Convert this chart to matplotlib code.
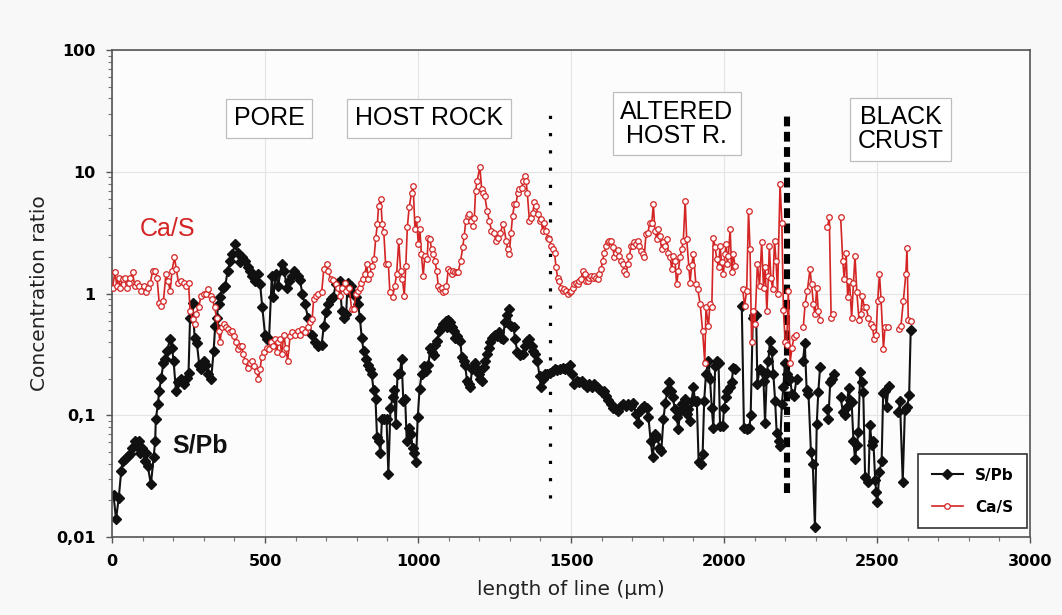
import numpy as np
import matplotlib
matplotlib.use('Agg')
import matplotlib.pyplot as plt
from matplotlib.ticker import FixedLocator, FixedFormatter, MultipleLocator, LogLocator, NullFormatter

nan = np.nan

# S/Pb profile (length in um, ratio); nan = no data
spb_x = [5, 13, 22, 30, 35, 43, 52, 60, 65, 74, 82, 87, 92, 98, 107, 111, 117, 127, 136, 141,
         143, 150, 154, 161, 168, 174, 179, 190, 196, 201, 209, 217, 226, 234, 245, 250, 255, 263, 270, 277,
         285, 291, 299, 307, 315, 324, 332, 337, 342, 348, 353, 361, 370, 378, 386, 393, 402, 411, 418, 426,
         435, 443, 451, 459, 467, 476, 484, 491, 500, 508, 513, 522, 527, 535, 543, 554, 563, 571, 578, 587,
         596, 607, 614, 622, 630, 641, 652, 663, 674, 685, 692, 699, 707, 717, 723, 731, 737, 744, 751, 758,
         765, 770, 776, 782, 790, 797, 804, 810, 816, 822, 829, 836, 842, 848, 855, 861, 866, 872, 877, 882,
         890, 897, 903, 910, 917, 922, 927, 933, 941, 946, 952, 958, 963, 970, 976, 982, 988, 993, 999, 1005,
         1012, 1019, 1026, 1034, 1040, 1045, 1051, 1056, 1063, 1070, 1077, 1083, 1090, 1094, 1099, 1105, 1110, 1116, 1121, 1127,
         1132, 1138, 1143, 1149, 1154, 1160, 1165, 1171, 1176, 1182, 1187, 1193, 1198, 1204, 1209, 1214, 1220, 1225, 1231, 1236,
         1242, 1247, 1253, 1258, 1264, 1270, 1277, 1284, 1290, 1298, 1303, 1312, 1317, 1325, 1333, 1342, 1350, 1357, 1364, 1371,
         1377, 1382, 1390, 1397, 1401, 1407, 1415, 1423, 1431, 1440, 1448, 1455, 1464, 1473, 1480, 1488, 1495, 1502, 1510, 1519,
         1527, 1535, 1542, 1551, 1560, 1568, 1575, 1584, 1593, 1600, 1608, 1614, 1622, 1630, 1638, 1647, 1655, 1662, 1671, 1680,
         1687, 1695, 1704, 1712, 1720, 1725, 1731, 1739, 1747, 1753, 1760, 1767, 1774, 1782, 1789, 1795, 1802, 1808, 1815, 1821,
         1826, 1832, 1840, 1845, 1851, 1856, 1862, 1867, 1873, 1878, 1883, 1889, 1894, 1900, 1905, 1911, 1917, 1924, 1930, 1935,
         1941, 1949, 1954, 1960, 1965, 1971, 1976, 1982, 1987, 1996, 2000, 2007, 2011, 2020, 2025, 2030, 2036, 2047, 2058, 2065,
         2074, 2083, 2087, 2094, 2098, 2105, 2109, 2116, 2123, 2129, 2134, 2140, 2145, 2150, 2156, 2161, 2167, 2172, 2178, 2183,
         2189, 2194, 2199, 2207, 2216, 2222, 2229, 2237, 2248, 2258, 2264, 2270, 2276, 2284, 2290, 2297, 2303, 2308, 2314, 2325,
         2337, 2341, 2347, 2352, 2359, 2370, 2381, 2388, 2396, 2401, 2407, 2412, 2417, 2423, 2428, 2434, 2439, 2445, 2450, 2455,
         2461, 2472, 2477, 2483, 2488, 2494, 2497, 2501, 2508, 2515, 2520, 2526, 2531, 2538, 2554, 2570, 2575, 2584, 2591, 2599,
         2605, 2610]
spb_y = [0.022, 0.014, 0.021, 0.035, 0.042, 0.044, 0.046, 0.048, 0.054, 0.061, 0.056, 0.061, 0.049, 0.054, 0.042, 0.049, 0.038, 0.027, 0.045, 0.061,
         0.093, 0.123, 0.158, 0.204, 0.271, 0.29, 0.338, 0.42, 0.36, 0.28, 0.158, 0.186, 0.198, 0.18, 0.204, 0.224, 0.635, 0.84, 0.43, 0.395,
         0.26, 0.24, 0.28, 0.26, 0.217, 0.198, 0.338, 0.54, 0.635, 0.82, 0.93, 1.12, 1.16, 1.54, 1.85, 2.13, 2.54, 2.17, 1.8, 1.98,
         1.85, 1.64, 1.54, 1.4, 1.27, 1.44, 1.19, 0.77, 0.46, 0.42, 0.42, 1.4, 0.93, 1.44, 1.16, 1.74, 1.54, 1.12, 1.27, 1.4,
         1.54, 1.4, 1.3, 0.99, 0.82, 0.63, 0.46, 0.40, 0.37, 0.38, 0.54, 0.70, 0.82, 0.90, 0.93, 1.19, 1.23, 1.27, 0.72, 0.63,
         0.68, 1.23, 1.02, 1.16, 0.99, 0.93, 0.82, 0.63, 0.43, 0.34, 0.29, 0.26, 0.24, 0.22, 0.16, 0.135, 0.066, 0.062, 0.049, 0.093,
         0.093, 0.093, 0.033, 0.115, 0.14, 0.16, 0.084, 0.22, 0.224, 0.29, 0.13, 0.135, 0.062, 0.079, 0.07, 0.054, 0.049, 0.041, 0.096, 0.164,
         0.22, 0.255, 0.23, 0.26, 0.36, 0.33, 0.31, 0.38, 0.41, 0.49, 0.53, 0.56, 0.6, 0.53, 0.61, 0.58, 0.53, 0.49, 0.43, 0.45,
         0.42, 0.41, 0.30, 0.28, 0.26, 0.19, 0.18, 0.17, 0.24, 0.255, 0.27, 0.23, 0.22, 0.20, 0.19, 0.25, 0.28, 0.32, 0.36, 0.40,
         0.43, 0.45, 0.46, 0.45, 0.48, 0.43, 0.42, 0.58, 0.66, 0.74, 0.54, 0.53, 0.42, 0.33, 0.31, 0.32, 0.37, 0.41, 0.42, 0.37,
         0.34, 0.32, 0.28, 0.21, 0.17, 0.20, 0.22, 0.22, 0.224, 0.23, 0.24, 0.235, 0.24, 0.246, 0.24, 0.246, 0.26, 0.22, 0.18, 0.19,
         0.186, 0.19, 0.18, 0.17, 0.18, 0.17, 0.18, 0.17, 0.164, 0.154, 0.157, 0.144, 0.133, 0.123, 0.115, 0.112, 0.109, 0.12, 0.123, 0.12,
         0.124, 0.12, 0.127, 0.102, 0.087, 0.109, 0.115, 0.12, 0.115, 0.096, 0.062, 0.045, 0.07, 0.066, 0.054, 0.051, 0.093, 0.127, 0.158, 0.186,
         0.158, 0.14, 0.112, 0.096, 0.077, 0.109, 0.123, 0.127, 0.135, 0.102, 0.112, 0.09, 0.131, 0.17, 0.131, 0.13, 0.041, 0.04, 0.048, 0.13,
         0.22, 0.28, 0.2, 0.115, 0.079, 0.255, 0.28, 0.27, 0.082, 0.082, 0.115, 0.14, 0.158, 0.17, 0.186, 0.246, 0.24, nan, 0.79, 0.079,
         0.077, 0.079, 0.10, 0.63, 0.66, 0.66, 0.18, 0.24, 0.23, 0.19, 0.087, 0.224, 0.28, 0.41, 0.34, 0.22, 0.131, 0.072, 0.062, 0.056,
         0.123, 0.17, 0.27, 0.22, 0.20, 0.15, 0.145, 0.2, nan, 0.28, 0.39, 0.16, 0.15, 0.05, 0.04, 0.012, 0.085, 0.155, 0.25, nan,
         0.112, 0.093, 0.186, 0.2, 0.22, nan, 0.142, 0.107, 0.10, 0.117, 0.166, 0.133, 0.129, 0.061, 0.044, 0.057, 0.073, 0.228, 0.189, 0.156,
         0.031, 0.0285, 0.083, 0.057, 0.061, 0.0295, 0.0236, 0.0195, 0.0345, 0.042, 0.152, 0.158, 0.118, 0.173, nan, 0.107, 0.13, 0.0285, 0.11, 0.118,
         0.147, 0.5]

# Ca/S profile
cas_x = [2, 9, 16, 22, 27, 35, 41, 48, 54, 60, 67, 74, 82, 87, 96, 103, 111, 117, 125, 133,
         141, 147, 154, 161, 168, 176, 183, 190, 196, 204, 210, 217, 226, 234, 241, 250, 255, 263, 270, 274,
         283, 291, 299, 307, 315, 324, 328, 335, 342, 348, 353, 359, 365, 372, 378, 386, 391, 397, 404, 411,
         418, 424, 429, 435, 443, 451, 459, 465, 473, 478, 484, 489, 498, 505, 513, 520, 527, 533, 538, 543,
         549, 554, 562, 567, 574, 582, 589, 598, 607, 614, 622, 630, 639, 647, 654, 659, 665, 674, 685, 692,
         701, 707, 714, 723, 732, 739, 745, 750, 761, 766, 775, 783, 790, 797, 805, 810, 815, 821, 826, 832,
         837, 843, 848, 856, 862, 867, 871, 878, 883, 888, 894, 903, 908, 917, 924, 930, 937, 943, 949, 955,
         960, 965, 971, 979, 984, 990, 995, 1001, 1006, 1011, 1017, 1022, 1030, 1033, 1039, 1044, 1050, 1055, 1061, 1066,
         1071, 1077, 1082, 1088, 1093, 1099, 1104, 1110, 1115, 1120, 1126, 1131, 1139, 1146, 1151, 1156, 1162, 1167, 1173, 1178,
         1184, 1188, 1193, 1202, 1208, 1213, 1218, 1226, 1233, 1240, 1248, 1254, 1262, 1268, 1279, 1288, 1293, 1298, 1304, 1309,
         1315, 1320, 1326, 1331, 1339, 1344, 1348, 1353, 1357, 1364, 1369, 1375, 1380, 1386, 1391, 1397, 1402, 1407, 1413, 1418,
         1424, 1429, 1435, 1440, 1446, 1451, 1456, 1462, 1467, 1473, 1478, 1484, 1489, 1495, 1500, 1505, 1511, 1516, 1522, 1527,
         1533, 1538, 1544, 1549, 1554, 1560, 1565, 1571, 1576, 1582, 1587, 1593, 1598, 1603, 1609, 1614, 1620, 1625, 1631, 1636,
         1642, 1647, 1652, 1658, 1663, 1669, 1674, 1680, 1685, 1691, 1696, 1702, 1707, 1712, 1718, 1723, 1729, 1734, 1739, 1745,
         1751, 1758, 1764, 1769, 1774, 1780, 1785, 1791, 1796, 1802, 1807, 1813, 1818, 1824, 1829, 1834, 1840, 1845, 1851, 1856,
         1862, 1867, 1873, 1878, 1885, 1889, 1894, 1900, 1908, 1914, 1922, 1930, 1937, 1941, 1949, 1954, 1960, 1965, 1971, 1976,
         1982, 1987, 1992, 1998, 2003, 2007, 2011, 2014, 2020, 2025, 2030, 2036, 2047, 2061, 2067, 2074, 2080, 2085, 2090, 2096,
         2101, 2109, 2116, 2123, 2129, 2134, 2140, 2145, 2148, 2153, 2159, 2165, 2170, 2175, 2183, 2189, 2194, 2200, 2205, 2210,
         2216, 2222, 2229, 2234, 2246, 2259, 2265, 2272, 2281, 2286, 2292, 2297, 2303, 2308, 2314, 2326, 2338, 2344, 2350, 2357,
         2369, 2381, 2388, 2393, 2399, 2404, 2410, 2417, 2423, 2428, 2434, 2441, 2447, 2452, 2458, 2464, 2472, 2479, 2486, 2490,
         2497, 2502, 2508, 2513, 2521, 2526, 2537, 2554, 2572, 2578, 2586, 2594, 2598, 2602, 2610]
cas_y = [1.12, 1.49, 1.16, 1.35, 1.12, 1.31, 1.35, 1.12, 1.23, 1.35, 1.49, 1.16, 1.23, 1.16, 1.05, 1.16, 1.02, 1.12, 1.23, 1.54,
         1.54, 1.35, 0.84, 0.79, 0.87, 1.44, 1.27, 1.05, 1.54, 1.98, 1.58, 1.23, 1.27, 1.23, 1.16, 1.23, 0.72, 0.62, 0.56, 0.68,
         0.77, 0.96, 0.99, 0.99, 1.09, 0.96, 0.90, 0.77, 0.63, 0.49, 0.40, 0.53, 0.56, 0.53, 0.51, 0.48, 0.49, 0.45, 0.40, 0.35,
         0.37, 0.37, 0.32, 0.28, 0.246, 0.27, 0.28, 0.255, 0.23, 0.20, 0.24, 0.30, 0.33, 0.36, 0.35, 0.40, 0.37, 0.42, 0.33, 0.40,
         0.42, 0.32, 0.46, 0.36, 0.28, 0.45, 0.48, 0.46, 0.49, 0.46, 0.51, 0.48, 0.53, 0.58, 0.62, 0.90, 0.96, 0.99, 1.02, 1.58,
         1.76, 1.54, 1.31, 1.29, 1.19, 1.12, 0.96, 1.12, 1.23, 1.05, 1.12, 0.74, 0.74, 0.99, 1.05, 1.12, 1.23, 1.31, 1.44, 1.74,
         1.31, 1.44, 1.69, 1.92, 2.88, 3.71, 5.25, 5.95, 3.71, 3.23, 1.74, 1.74, 1.02, 0.94, 1.16, 1.44, 2.71, 1.54, 1.31, 0.96,
         1.69, 3.49, 5.1, 6.75, 7.7, 3.38, 4.1, 2.54, 3.38, 2.1, 1.4, 2.04, 1.92, 2.88, 2.8, 2.31, 2.1, 1.85, 1.54, 1.16,
         1.09, 1.12, 1.02, 1.05, 1.16, 1.58, 1.54, 1.44, 1.54, 1.49, 1.49, 1.49, 1.85, 2.39, 2.98, 3.95, 4.35, 4.5, 3.95, 3.6,
         4.2, 7.0, 8.4, 10.9, 7.2, 6.75, 6.3, 4.78, 3.95, 3.27, 3.17, 2.71, 2.88, 3.17, 3.71, 2.71, 2.31, 2.1, 3.17, 4.35,
         5.4, 5.4, 6.75, 7.2, 7.4, 8.4, 9.3, 8.4, 6.75, 3.95, 4.2, 4.6, 5.6, 5.25, 4.5, 3.95, 4.1, 3.27, 3.83, 3.27,
         2.88, 2.8, 2.46, 2.31, 2.17, 1.64, 1.35, 1.27, 1.12, 1.05, 1.09, 1.04, 0.99, 1.02, 1.04, 1.12, 1.19, 1.23, 1.19, 1.27,
         1.31, 1.54, 1.44, 1.27, 1.27, 1.35, 1.4, 1.35, 1.4, 1.35, 1.31, 1.44, 1.58, 1.85, 2.17, 2.46, 2.63, 2.71, 2.71, 2.39,
         1.98, 2.17, 2.27, 2.04, 1.85, 1.74, 1.54, 1.44, 1.74, 2.04, 2.46, 2.46, 2.63, 2.55, 2.71, 2.46, 2.24, 2.1, 1.98, 3.07,
         3.17, 3.83, 3.83, 5.4, 3.27, 2.8, 3.38, 2.98, 2.31, 2.63, 2.46, 2.8, 2.17, 1.98, 1.58, 2.04, 1.85, 1.19, 1.54, 1.98,
         2.31, 2.71, 5.8, 2.8, 1.64, 1.23, 1.7, 2.1, 1.19, 1.09, 0.82, 0.49, 0.27, 0.77, 0.54, 0.82, 0.77, 2.88, 2.39, 1.92,
         1.64, 2.46, 1.8, 1.44, 2.1, 2.54, 1.74, 2.04, 3.38, 1.49, 2.1, 1.69, nan, 1.09, 0.79, 1.05, 4.8, 2.31, 0.40, 0.72,
         0.56, 1.74, 1.16, 2.63, 1.12, 1.64, 0.72, 1.4, 2.46, 1.35, 1.09, 2.71, 1.85, 1.0, 8.0, 3.8, 0.73, 0.40, 0.38, 1.05,
         0.27, 0.36, 0.44, 0.46, nan, 0.53, 0.82, 1.05, 1.58, 1.19, 0.82, 0.68, 1.12, 0.72, 0.61, nan, 3.49, 4.27, 0.63, 0.68,
         nan, 4.27, 1.85, 1.31, 2.17, 0.93, 1.27, 0.63, 1.23, 2.04, 1.02, 0.61, 0.68, 0.96, 0.77, 0.77, 0.63, 0.56, 0.53, 0.42,
         0.46, 0.87, 1.44, 0.9, 0.35, 0.53, 0.53, nan, 0.51, 0.54, 0.87, 1.44, 2.36, 0.61, 0.6]

zone_names = ['PORE', 'HOST ROCK', 'ALTERED\nHOST R.', 'BLACK\nCRUST']
zone_x = [513, 1036, 1846, 2578]
zone_y = [27.6, 27.6, 24.7, 22.4]

# boundaries between zones: x, bottom, top
boundary_x = [1430, 2205]
boundary_lo = [0.021, 0.023]
boundary_hi = [33, 31]

y_ticks = [0.01, 0.1, 1, 10, 100]
y_labels = ['0,01', '0,1', '1', '10', '100']
x_ticks = [0, 500, 1000, 1500, 2000, 2500, 3000]

RED = '#d42424'
BLK = '#111111'

fig = plt.figure(figsize=(10.62, 6.15), dpi=100, facecolor='#f8f8f8')
ax = fig.add_axes([0.1055, 0.1268, 0.8644, 0.7919])
ax.set_facecolor('#fcfcfc')

ax.set_yscale('log')
ax.set_xlim(0, 3000)
ax.set_ylim(0.01, 100)
ax.grid(True, which='major', color='#e4e4e4', lw=0.8, zorder=0)

# zone boundaries
ax.plot([boundary_x[0]] * 2, [boundary_lo[0], boundary_hi[0]], color='black', lw=2.3,
        linestyle=(0, (1.0, 4.4)), zorder=1.5)
ax.plot([boundary_x[1]] * 2, [boundary_lo[1], boundary_hi[1]], color='black', lw=4.4,
        linestyle=(0, (1.6, 0.9)), zorder=1.5)

ax.plot(spb_x, spb_y, color=BLK, lw=1.5, marker='D', ms=4.6, mfc=BLK, mec=BLK,
        label='S/Pb', zorder=2)
ax.plot(cas_x, cas_y, color=RED, lw=1.2, marker='o', ms=4.0, mfc='white', mec=RED, mew=0.9,
        label='Ca/S', zorder=3)

for name, zx, zy in zip(zone_names, zone_x, zone_y):
    ax.text(zx, zy, name, ha='center', va='center', fontsize=18, family='Liberation Sans',
            linespacing=1.0, zorder=4,
            bbox=dict(boxstyle='square,pad=0.3', fc='white', ec='#bdbdbd', lw=0.9))

ax.text(183, 3.4, 'Ca/S', color=RED, fontsize=18, family='Liberation Sans', ha='center', va='center')
ax.text(288, 0.056, 'S/Pb', color=BLK, fontsize=18, fontweight='bold', family='Liberation Sans',
        ha='center', va='center')

ax.yaxis.set_major_locator(FixedLocator(y_ticks))
ax.yaxis.set_major_formatter(FixedFormatter(y_labels))
ax.yaxis.set_minor_locator(LogLocator(base=10, subs=np.arange(2, 10)))
ax.yaxis.set_minor_formatter(NullFormatter())
ax.xaxis.set_major_locator(FixedLocator(x_ticks))
ax.xaxis.set_minor_locator(MultipleLocator(100))

ax.tick_params(axis='both', which='major', direction='out', length=4, width=1.0,
               color='#555555', labelsize=11.5, pad=8)
ax.tick_params(axis='both', which='minor', direction='out', length=3, width=0.8, color='#777777')
for lab in ax.get_xticklabels() + ax.get_yticklabels():
    lab.set_fontweight('bold')

for sp in ax.spines.values():
    sp.set_color('#555555')
    sp.set_linewidth(1.2)

ax.set_xlabel('length of line (µm)', fontsize=14.5, color='#222222', labelpad=8)
ax.set_ylabel('Concentration ratio', fontsize=14.5, color='#222222', labelpad=5)

leg = ax.legend(loc='lower right', bbox_to_anchor=(0.997, 0.018), borderaxespad=0,
                fancybox=False, frameon=True, handlelength=2.0, borderpad=0.9, labelspacing=1.1,
                prop={'weight': 'bold', 'size': 11})
leg.get_frame().set_edgecolor('#333333')
leg.get_frame().set_linewidth(1.2)
leg.get_frame().set_facecolor('white')
leg.get_frame().set_alpha(1)

fig.savefig('out.png', dpi=100, facecolor=fig.get_facecolor())
